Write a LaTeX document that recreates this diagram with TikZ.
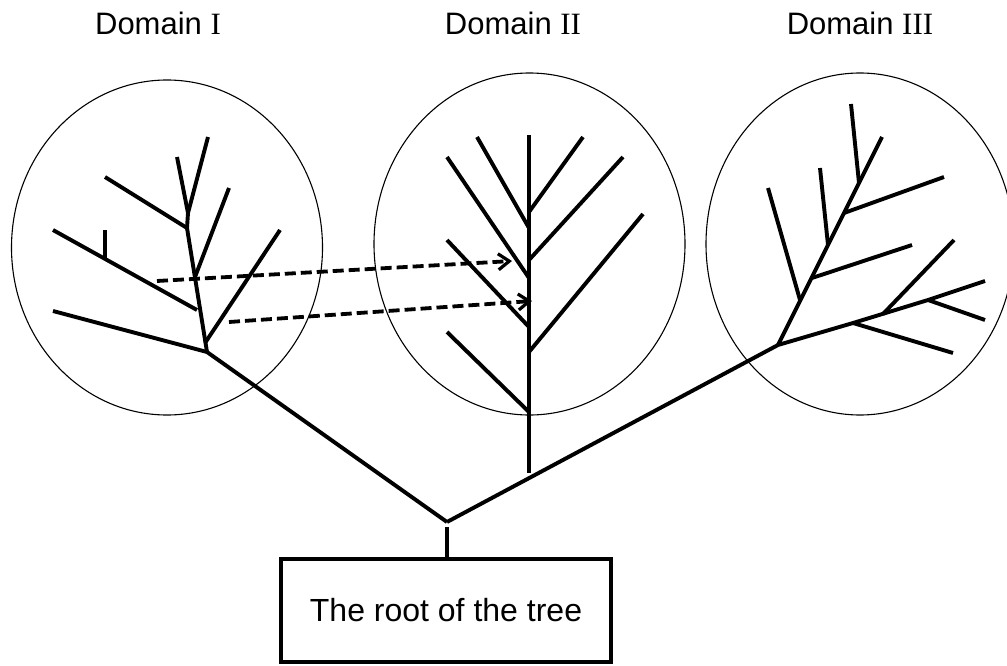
\documentclass[tikz,border=0pt]{standalone}
\usepackage{fontspec}
\setmainfont{Liberation Sans}
\newfontfamily\romanfont{Liberation Serif}
\usetikzlibrary{arrows.meta}
\begin{document}
\begin{tikzpicture}[x=1pt,y=-1pt,
  branch/.style={line width=3.9pt},
  domainring/.style={line width=1.1pt},
  link/.style={line width=3.8pt, dash pattern=on 11pt off 5pt,
    -{Straight Barb[length=11pt,width=16pt,line width=3.2pt]}},
  domainlabel/.style={font=\fontsize{31}{37}\selectfont, anchor=base, inner sep=0pt},
  rootbox/.style={draw, line width=4.5pt, minimum width=330pt, minimum height=103pt,
    inner sep=0pt, font=\fontsize{32}{38}\selectfont}
]
\useasboundingbox (0,0) rectangle (1007,666);

% domain labels
\node[domainlabel] (d1) at (158,35) {Domain {\romanfont I}};
\node[domainlabel] (d2) at (513,35) {Domain {\romanfont II}};
\node[domainlabel] (d3) at (860,35) {Domain {\romanfont III}};

% domain rings
\draw[domainring] (167,247.5) ellipse [x radius=155.5, y radius=167.5];
\draw[domainring] (529.5,244) ellipse [x radius=155.5, y radius=171];
\draw[domainring] (860,244) ellipse [x radius=154, y radius=171];

% root box
\node[rootbox] (root) at (446,610.5) {The root of the tree};

% ---- main junctions
\coordinate (R) at (447,522);
\coordinate (J1) at (207,352);
\coordinate (J3) at (778,345);
\coordinate (Rs) at (447,527);

\draw[branch] (R) -- (J1);
\draw[branch] (R) -- (J3);
\draw[branch] (Rs) -- (Rs |- root.north);

% ---- tree I
\coordinate (a1) at (205,343);
\coordinate (a2) at (195,277);
\coordinate (a3) at (187,228);
\coordinate (a4) at (188,213);
\coordinate (a5) at (177,157);
\coordinate (a6) at (208,137);
\coordinate (a7) at (105,177);
\coordinate (a8) at (229,188);
\coordinate (a9) at (280,230);
\coordinate (a10) at (53,311);
\coordinate (b1) at (53,230);
\coordinate (b2) at (197,310);
\coordinate (b3) at (105,259);
\coordinate (b4) at (105,230);

\draw[branch] (J1) -- (a3) -- (a4) -- (a5);
\draw[branch] (a4) -- (a6);
\draw[branch] (a7) -- (a3);
\draw[branch] (a2) -- (a8);
\draw[branch] (a1) -- (a9);
\draw[branch] (a10) -- (J1);
\draw[branch] (b1) -- (b2);
\draw[branch] (b3) -- (b4);

% ---- tree II
\coordinate (s0) at (529,135);
\coordinate (s8) at (529,473);
\draw[branch] (s0) -- (s8);
\foreach \tx/\ty/\sy [count=\i] in {477/137/228, 583/137/212, 447/157/278, 623/157/260,
                     447/240/327, 643/214/352, 447/332/412}{
  \coordinate (t\i) at (\tx,\ty);
  \coordinate (m\i) at (529,\sy);
  \draw[branch] (t\i) -- (m\i);
}

% ---- tree III
\coordinate (p1) at (853,323);
\coordinate (p2) at (928,300);
\coordinate (p3) at (985,281);
\coordinate (q) at (883,314);
\draw[branch] (J3) -- (p1) -- (p2) -- (p3);
\draw[branch] (p1) -- (953,353);
\draw[branch] (p2) -- (985,320);
\draw[branch] (q) -- (954,240);

\coordinate (u1) at (800,300);
\coordinate (u2) at (812,278);
\coordinate (u3) at (828,245);
\coordinate (u4) at (844,213);
\coordinate (u5) at (859,183);
\coordinate (u6) at (882,137);
\draw[branch] (J3) -- (u6);
\draw[branch] (u1) -- (768,188);
\draw[branch] (u2) -- (912,245);
\draw[branch] (u3) -- (820,168);
\draw[branch] (u4) -- (944,177);
\draw[branch] (u5) -- (851,104);

% ---- dashed links
\coordinate (l1s) at (157,281);
\coordinate (l1e) at (512,261);
\coordinate (l2s) at (229,322);
\coordinate (l2e) at (532,301);
\draw[link] (l1s) -- (l1e);
\draw[link] (l2s) -- (l2e);
\end{tikzpicture}
\end{document}
